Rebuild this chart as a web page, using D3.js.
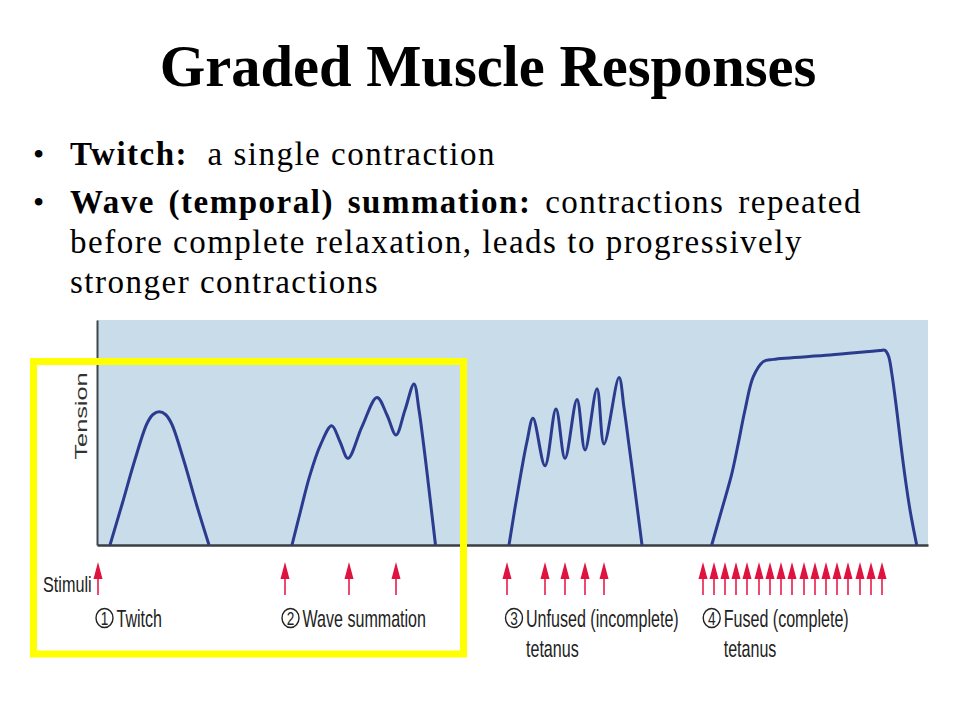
<!DOCTYPE html>
<html><head><meta charset="utf-8">
<script src="https://cdn.jsdelivr.net/npm/d3@7"></script>
<style>body{margin:0;background:#fff} svg{display:block}</style>
</head><body>
<svg id="c" width="960" height="720"></svg>
<script>
// ---- data (time in arbitrary units, tension in % of panel height) ----
const twitchTime    = [13, 25, 38, 50, 56, 62.3, 68.5, 74.5, 86.5, 99.5, 112];
const twitchTension = [0, 18, 38, 54, 58, 59.2, 58, 54, 38, 18, 0];

const waveTime    = [195, 203.5, 212.5, 223.5, 234.7, 243, 251, 265, 280, 290, 299, 308, 317, 322, 326.5, 330.5, 334.5, 338.5];
const waveTension = [0, 15, 30.4, 44.5, 53.0, 45.9, 38.5, 52.6, 65.6, 57.8, 48.9, 60, 71.6, 60, 45, 30.4, 15.2, 0];

const unfusedTime    = [412, 418, 424, 430, 436, 448, 459, 468, 480, 488, 500, 507, 522, 527, 531.5, 536, 540.5, 545];
const unfusedTension = [0, 16.5, 32, 46, 56.3, 35.2, 60.4, 38.5, 64.7, 42.2, 69.5, 44.9, 74.5, 61, 46, 31, 15.6, 0];

const fusedTime    = [614.7, 624.7, 634.7, 641.3, 648, 656.3, 666.3, 676.3, 733, 783, 788, 791.5, 794.7, 799.7, 803.7, 808, 813, 819.7];
const fusedTension = [0, 15.6, 31.5, 45.2, 60, 74.8, 81.5, 82.5, 84.4, 86.4, 86.5, 84, 76.5, 60, 45.2, 30.4, 15.6, 0];

const twitchStimuli  = [1];
const waveStimuli    = [188, 252, 299];
const unfusedStimuli = [410, 448, 468, 488, 507];
const fusedStimuli   = [606, 617, 628, 639, 650, 662, 673, 684, 695, 707, 718, 729, 740, 751, 763, 774, 785];

const panelLabels  = ["Twitch", "Wave summation", "Unfused (incomplete)", "Fused (complete)"];
const panelNumbers = ["1", "2", "3", "4"];
const panelLabelTime = [7.5, 193.5, 417, 614.7];
const panelSecondLine = ["", "", "tetanus", "tetanus"];

const titleText = "Graded Muscle Responses";
const bulletHeads = ["Twitch:", "Wave (temporal) summation:"];
const bulletBodies = ["  a single contraction", " contractions repeated"];
const continuationLines = ["before complete relaxation, leads to progressively", "stronger contractions"];

// ---- drawing ----
const svg = d3.select("#c");
const x = d3.scaleLinear().domain([0, 831]).range([97, 928]);
const y = d3.scaleLinear().domain([0, 100]).range([545, 320]);
const serif = "Liberation Serif, 'Times New Roman', serif";
const sans = "Liberation Sans, Arial, sans-serif";

// title
svg.append("text").attr("x", 488).attr("y", 86).attr("text-anchor", "middle")
  .attr("font-family", serif).attr("font-weight", "bold").attr("font-size", 58.5).attr("fill", "#000")
  .text(titleText);

// bullets
const bulletY = [165, 213];
bulletHeads.forEach((h, i) => {
  svg.append("text").attr("x", 33).attr("y", bulletY[i]).attr("font-family", serif)
    .attr("font-size", 32).text("\u2022");
  const t = svg.append("text").attr("x", 70).attr("y", bulletY[i]).attr("font-family", serif)
    .attr("font-size", 33).attr("letter-spacing", 1.5).style("white-space", "pre");
  t.append("tspan").attr("font-weight", "bold").text(h);
  t.append("tspan").text(bulletBodies[i]);
  if (i === 1) {
    const natural = t.node().getComputedTextLength();
    const spaces = (h + bulletBodies[i]).split(" ").length - 1;
    t.attr("word-spacing", Math.max(0, (792 - natural) / spaces));
  }
});
continuationLines.forEach((l, i) => {
  svg.append("text").attr("x", 70).attr("y", 253 + i * 40).attr("font-family", serif)
    .attr("font-size", 33).attr("letter-spacing", 1.5).text(l);
});

// panel background
svg.append("rect").attr("x", x(0)).attr("y", y(100))
  .attr("width", x(831) - x(0)).attr("height", y(0) - y(100)).attr("fill", "#c8dcea");

// axes (domain lines only)
svg.append("g").attr("transform", `translate(${x(0)},0)`)
  .call(d3.axisLeft(y).ticks(0).tickSizeOuter(0))
  .call(g => g.select(".domain").attr("stroke", "#41464c").attr("stroke-width", 2));
svg.append("g").attr("transform", `translate(0,${y(0)})`)
  .call(d3.axisBottom(x).ticks(0).tickSizeOuter(0))
  .call(g => g.select(".domain").attr("stroke", "#3a3e43").attr("stroke-width", 2.5));

// Tension label
svg.append("text").attr("transform", `translate(${87},${416}) rotate(-90)`)
  .attr("text-anchor", "middle").attr("font-family", sans)
  .attr("font-size", 16).attr("fill", "#333")
  .attr("textLength", 87).attr("lengthAdjust", "spacingAndGlyphs").text("Tension");

// curves
const line = d3.line().x(d => x(d[0])).y(d => y(d[1])).curve(d3.curveCatmullRom.alpha(0.5));
[[twitchTime, twitchTension], [waveTime, waveTension], [unfusedTime, unfusedTension], [fusedTime, fusedTension]]
  .forEach(([t, v]) => {
    svg.append("path").attr("d", line(d3.zip(t, v))).attr("fill", "none")
      .attr("stroke", "#2b3c8e").attr("stroke-width", 3).attr("stroke-linejoin", "round");
  });

// stimuli arrows
const arrowTop = 562, headBase = 579, shaftEnd = 595;
const allStim = [].concat(twitchStimuli, waveStimuli, unfusedStimuli, fusedStimuli);
const ag = svg.append("g");
allStim.forEach(s => {
  const cx = x(s);
  ag.append("line").attr("x1", cx).attr("x2", cx).attr("y1", headBase - 2).attr("y2", shaftEnd)
    .attr("stroke", "#e81c4c").attr("stroke-width", 1.6);
  ag.append("path").attr("d", `M${cx},${arrowTop} L${cx + 4.5},${headBase} L${cx - 4.5},${headBase} Z`)
    .attr("fill", "#e0123f");
});

// small label text (condensed sans)
function condensed(tx, ty, str, size, sx) {
  return svg.append("text").attr("transform", `translate(${tx},${ty}) scale(${sx},1)`)
    .attr("font-family", sans).attr("font-size", size).attr("fill", "#222").text(str);
}
condensed(43, 592, "Stimuli", 22.5, 0.72);

panelLabels.forEach((lab, i) => {
  const cx = x(panelLabelTime[i]);
  svg.append("ellipse").attr("cx", cx).attr("cy", 618).attr("rx", 8.5).attr("ry", 9.5)
    .attr("fill", "none").attr("stroke", "#222").attr("stroke-width", 1.4);
  svg.append("text").attr("transform", `translate(${cx},${624.5}) scale(0.78,1)`)
    .attr("text-anchor", "middle").attr("font-family", sans).attr("font-size", 17.5)
    .attr("fill", "#222").text(panelNumbers[i]);
  condensed(cx + 12, 627, lab, 24, 0.67);
  if (panelSecondLine[i]) condensed(cx + 12, 657, panelSecondLine[i], 24, 0.67);
});

// yellow highlight box
svg.append("rect").attr("x", 33.5).attr("y", 361.5).attr("width", 430).attr("height", 292.5)
  .attr("fill", "none").attr("stroke", "#ffff00").attr("stroke-width", 7);
</script>
</body></html>
